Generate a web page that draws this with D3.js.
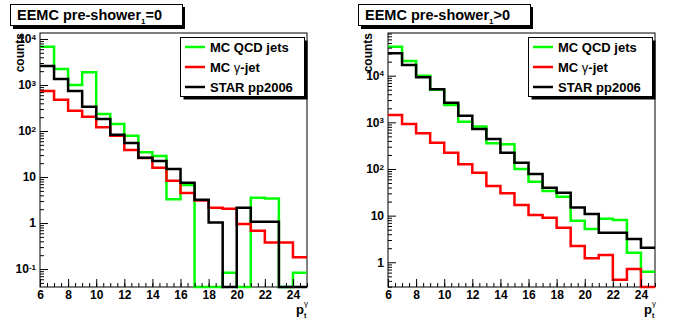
<!DOCTYPE html>
<html>
<head>
<meta charset="utf-8">
<script src="https://cdn.jsdelivr.net/npm/d3@7"></script>
<style>
  body { margin: 0; background: #fff; }
  text { font-family: "Liberation Sans", Arial, sans-serif; font-weight: bold; fill: #000; }
</style>
</head>
<body>
<div id="wrapper"></div>
<script>
// bin lower edges, width 1 (6 .. 25)
const binLow = [6, 7, 8, 9, 10, 11, 12, 13, 14, 15, 16, 17, 18, 19, 20, 21, 22, 23, 24]

// pre-shower1 = 0
const qcd0   = [6800, 2230, 1000, 1900, 235, 142, 79, 34.6, 28.5, 3.3, 6.7, 0, 0, 0.083, 0, 3.55, 3.4, 0, 0.083]
const gamma0 = [740, 480, 276, 204, 120, 79, 38.6, 25.8, 15.9, 8.3, 4.5, 3.1, 2.15, 2.05, 0.95, 0.68, 0.38, 0.38, 0.18]
const star0  = [2580, 1350, 740, 338, 182, 83, 55, 26.3, 22.3, 14.9, 7.5, 3.2, 1.03, 0, 2.15, 1.07, 1.07, 0, 0]

// pre-shower1 > 0
const qcd1   = [41900, 20700, 10000, 5000, 2350, 1030, 810, 356, 338, 100, 53.5, 33.8, 25.5, 7.8, 5.2, 8.6, 8.1, 1.6, 0.63]
const gamma1 = [1440, 920, 580, 365, 224, 126, 83, 43, 30, 17, 10.3, 9.0, 5.5, 2.24, 1.22, 1.43, 0.42, 0.72, 0]
const star1  = [30200, 17000, 9300, 5100, 2640, 1380, 720, 440, 224, 136, 78, 39.8, 31, 15, 10.8, 4.3, 4.3, 3.16, 2.05]

const xTicks = [6, 8, 10, 12, 14, 16, 18, 20, 22, 24]
const yTicks0 = [0.1, 1, 10, 100, 1000, 10000]
const yLabels0 = [["10", "-1"], ["1", ""], ["10", ""], ["10", "2"], ["10", "3"], ["10", "4"]]
const yTicks1 = [1, 10, 100, 1000, 10000]
const yLabels1 = [["1", ""], ["10", ""], ["10", "2"], ["10", "3"], ["10", "4"]]

const seriesNames = ["MC QCD jets", "MC γ-jet", "STAR pp2006"]
const seriesColors = ["#00ff00", "#ff0000", "#000000"]

const svg = d3.select("#wrapper")
  .append("svg")
    .attr("width", 696)
    .attr("height", 322)

function drawPanel(offsetX, title, series, yDomain, yTicks, yLabels) {
  const dims = { left: 40, right: 307, top: 33, bottom: 287 }

  const g = svg.append("g")
      .attr("transform", `translate(${offsetX},0)`)

  const xScale = d3.scaleLinear()
    .domain([6, 25])
    .range([dims.left, dims.right])

  const yScale = d3.scaleLog()
    .domain(yDomain)
    .range([dims.bottom, dims.top])
    .clamp(true)

  const yOf = v => v > 0 ? yScale(v) : dims.bottom

  // frame
  g.append("rect")
      .attr("x", dims.left)
      .attr("y", dims.top)
      .attr("width", dims.right - dims.left)
      .attr("height", dims.bottom - dims.top)
      .attr("fill", "#fff")
      .attr("stroke", "#000")
      .attr("stroke-width", 1)

  // histograms
  const lineGenerator = d3.line()
      .x(d => xScale(d[0]))
      .y(d => yOf(d[1]))
      .curve(d3.curveStepAfter)

  series.forEach((vals, i) => {
    const pts = binLow.map((b, j) => [b, vals[j]])
    pts.push([25, vals[vals.length - 1]])
    g.append("path")
        .attr("d", lineGenerator(pts))
        .attr("fill", "none")
        .attr("stroke", seriesColors[i])
        .attr("stroke-width", 2.5)
  })

  // x axis: minor + major ticks inside the frame
  const xMinor = d3.range(6, 25.01, 0.5)
  g.append("g")
      .attr("transform", `translate(0,${dims.bottom})`)
      .call(d3.axisBottom(xScale).tickValues(xMinor).tickSize(-4).tickFormat(""))
      .call(a => a.select(".domain").remove())
  const xAxis = g.append("g")
      .attr("transform", `translate(0,${dims.bottom})`)
      .call(d3.axisBottom(xScale).tickValues(xTicks).tickSize(-8).tickPadding(3))
      .call(a => a.select(".domain").remove())
  xAxis.selectAll("text")
      .style("font-size", "12px")
      .style("font-family", "'Liberation Sans', Arial, sans-serif")
      .style("font-weight", "bold")

  // y axis (log): minor ticks 2..9 x 10^n
  const yMinor = []
  for (let n = -2; n <= 5; n++) {
    for (let k = 2; k <= 9; k++) {
      const v = k * Math.pow(10, n)
      if (v >= yDomain[0] && v <= yDomain[1]) yMinor.push(v)
    }
  }
  g.append("g")
      .attr("transform", `translate(${dims.left},0)`)
      .call(d3.axisLeft(yScale).tickValues(yMinor).tickSize(-4).tickFormat(""))
      .call(a => a.select(".domain").remove())
  const yAxis = g.append("g")
      .attr("transform", `translate(${dims.left},0)`)
      .call(d3.axisLeft(yScale).tickValues(yTicks).tickSize(-8).tickPadding(4).tickFormat(""))
      .call(a => a.select(".domain").remove())
  yAxis.selectAll(".tick text")
      .each(function(d, i) {
        const t = d3.select(this)
          .style("font-size", "12px")
          .style("font-family", "'Liberation Sans', Arial, sans-serif")
          .style("font-weight", "bold")
        t.append("tspan").text(yLabels[i][0])
        if (yLabels[i][1]) {
          t.append("tspan")
              .attr("dy", "-0.45em")
              .style("font-size", "8px")
              .text(yLabels[i][1])
        }
      })

  // y title
  g.append("text")
      .attr("transform", `translate(24,33) rotate(-90)`)
      .attr("text-anchor", "end")
      .style("font-size", "12px")
      .text("counts")

  // x title p_t^gamma
  const xt = g.append("text")
      .attr("x", 296)
      .attr("y", 314)
      .style("font-size", "13px")
  xt.append("tspan").text("p")
  g.append("text")
      .attr("x", 304)
      .attr("y", 306)
      .style("font-size", "8px")
      .style("font-weight", "normal")
      .text("γ")
  g.append("text")
      .attr("x", 304)
      .attr("y", 318)
      .style("font-size", "7px")
      .text("t")

  // title box with shadow
  g.append("rect")
      .attr("x", 13).attr("y", 7)
      .attr("width", 172).attr("height", 22)
      .attr("fill", "#000")
  g.append("rect")
      .attr("x", 10.5).attr("y", 4.5)
      .attr("width", 172).attr("height", 21)
      .attr("fill", "#fff")
      .attr("stroke", "#000")
  const tt = g.append("text")
      .attr("x", 17)
      .attr("y", 20)
      .style("font-size", "14.5px")
  tt.append("tspan").text(title[0])
  tt.append("tspan")
      .attr("dy", 4)
      .style("font-size", "8px")
      .text("1")
  tt.append("tspan")
      .attr("dy", -4)
      .text(title[1])

  // legend with shadow
  const lg = { x: 180.5, y: 37.5, w: 124, h: 59 }
  g.append("rect")
      .attr("x", lg.x + 3).attr("y", lg.y + 3)
      .attr("width", lg.w).attr("height", lg.h)
      .attr("fill", "#000")
  g.append("rect")
      .attr("x", lg.x).attr("y", lg.y)
      .attr("width", lg.w).attr("height", lg.h)
      .attr("fill", "#fff")
      .attr("stroke", "#000")
  seriesNames.forEach((name, i) => {
    const cy = 47 + i * 20
    g.append("line")
        .attr("x1", 185).attr("x2", 205)
        .attr("y1", cy).attr("y2", cy)
        .attr("stroke", seriesColors[i])
        .attr("stroke-width", 2.5)
    const t = g.append("text")
        .attr("x", 210)
        .attr("y", cy + 4.5)
        .style("font-size", "13px")
    if (name.includes("γ")) {
      const parts = name.split("γ")
      t.append("tspan").text(parts[0])
      t.append("tspan").style("font-weight", "normal").text("γ")
      t.append("tspan").text(parts[1])
    } else {
      t.text(name)
    }
  })
}

drawPanel(0, ["EEMC pre-shower", "=0"], [qcd0, gamma0, star0],
  [Math.pow(10, -1.39), Math.pow(10, 4.13)], yTicks0, yLabels0)
drawPanel(348, ["EEMC pre-shower", ">0"], [qcd1, gamma1, star1],
  [Math.pow(10, -0.53), Math.pow(10, 4.915)], yTicks1, yLabels1)
</script>
</body>
</html>
